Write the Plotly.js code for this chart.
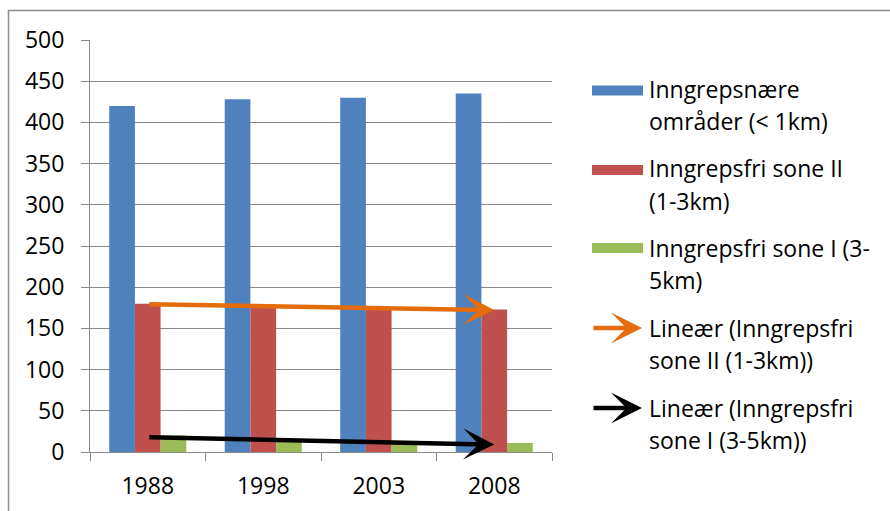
<!DOCTYPE html>
<html>
<head>
<meta charset="utf-8">
<script src="https://cdn.plot.ly/plotly-3.0.1.min.js"></script>
<style>
  html, body { margin: 0; padding: 0; background: #fff; }
  #chart { width: 890px; height: 511px; }
</style>
</head>
<body>
<div id="chart"></div>
<script>
// ---- Data ----
const years = ['1988', '1998', '2003', '2008'];
const nearValues = [420, 428, 430, 435];      // Inngrepsnære områder (< 1km)
const zoneIIValues = [180, 176, 174, 173];    // Inngrepsfri sone II (1-3km)
const zoneIValues = [20, 13, 10, 11];         // Inngrepsfri sone I (3-5km)

const seriesNames = [
  'Inngrepsnære områder (< 1km)',
  'Inngrepsfri sone II (1-3km)',
  'Inngrepsfri sone I (3-5km)'
];
const legendLines = [
  ['Inngrepsnære', 'områder (< 1km)'],
  ['Inngrepsfri sone II', '(1-3km)'],
  ['Inngrepsfri sone I (3-', '5km)'],
  ['Lineær (Inngrepsfri', 'sone II (1-3km))'],
  ['Lineær (Inngrepsfri', 'sone I (3-5km))']
];

// ---- Styling ----
const colors = ['#4F81BD', '#C0504D', '#9BBB59'];
const trendColors = ['#E46C0A', '#000000'];
const FONT = '"Open Sans", Lato, "DejaVu Sans", sans-serif';
const FS = 23;
const GRID = '#888888';

// Linear trend (least squares over category index) like Excel's "Lineær" trendline
function linFit(vals) {
  const n = vals.length;
  const xs = vals.map((_, i) => i);
  const mx = xs.reduce((a, b) => a + b, 0) / n;
  const my = vals.reduce((a, b) => a + b, 0) / n;
  let sxy = 0, sxx = 0;
  for (let i = 0; i < n; i++) { sxy += (xs[i] - mx) * (vals[i] - my); sxx += (xs[i] - mx) ** 2; }
  const b = sxy / sxx, a = my - b * mx;
  return [a, a + b * (n - 1)];
}
const trendII = linFit(zoneIIValues);
const trendI = linFit(zoneIValues);

// Plot area in pixels
const W = 890, H = 511;
const L = 90, R = 552, T = 40, B = 452;
const px = x => (x - L) / (R - L);
const py = y => (B - y) / (B - T);

const traces = [nearValues, zoneIIValues, zoneIValues].map((vals, i) => ({
  type: 'bar', x: years, y: vals, name: seriesNames[i],
  marker: { color: colors[i] }, showlegend: false, hoverinfo: 'x+y'
}));

const annotations = [];
const shapes = [];

// Trend arrows in data coordinates
[[trendII, trendColors[0]], [trendI, trendColors[1]]].forEach(([tr, col]) => {
  annotations.push({
    x: years.length - 1, y: tr[1], xref: 'x', yref: 'y',
    ax: 0, ay: tr[0], axref: 'x', ayref: 'y',
    text: '', showarrow: true, arrowhead: 3, arrowsize: 1.15,
    arrowwidth: 4.5, arrowcolor: col
  });
});

// Outer border
shapes.push({
  type: 'rect', xref: 'paper', yref: 'paper',
  x0: px(8.5), x1: px(900), y0: py(520), y1: py(10.5),
  line: { color: '#8c8c8c', width: 1.5 }, fillcolor: 'rgba(0,0,0,0)'
});

// Legend (drawn by hand to match swatch shapes)
const legendY = [[89, 121], [168, 201], [248, 280], [328, 360], [408, 440]];
const swatchY = [90.5, 170, 248];
const textX = 647;
for (let i = 0; i < 3; i++) {
  shapes.push({
    type: 'rect', xref: 'paper', yref: 'paper',
    x0: px(592), x1: px(643), y0: py(swatchY[i] + 5), y1: py(swatchY[i] - 5),
    line: { width: 0 }, fillcolor: colors[i]
  });
}
for (let j = 0; j < 2; j++) {
  annotations.push({
    x: px(642), y: py(legendY[3 + j][0]), xref: 'paper', yref: 'paper',
    ax: -50, ay: 0, text: '', showarrow: true, arrowhead: 3, arrowsize: 1.15,
    arrowwidth: 4.5, arrowcolor: trendColors[j]
  });
}
legendLines.forEach((lines, i) => {
  lines.forEach((t, k) => {
    annotations.push({
      x: px(textX), y: py(legendY[i][k]), xref: 'paper', yref: 'paper',
      xanchor: 'left', yanchor: 'middle', showarrow: false, text: t,
      font: { family: FONT, size: FS, color: '#000' }
    });
  });
});

const layout = {
  width: W, height: H,
  margin: { l: L, r: W - R, t: T, b: H - B, pad: 0 },
  paper_bgcolor: '#fff', plot_bgcolor: '#fff',
  showlegend: false,
  barmode: 'group', bargap: 0.333, bargroupgap: 0,
  font: { family: FONT, size: FS, color: '#000' },
  xaxis: {
    type: 'category', showgrid: false, showline: true, linecolor: GRID, linewidth: 1,
    ticks: 'outside', tickson: 'boundaries', ticklen: 8, tickcolor: GRID, tickwidth: 1,
    ticklabelstandoff: 13, tickfont: { family: FONT, size: FS, color: '#000' },
    fixedrange: true
  },
  yaxis: {
    range: [0, 500], dtick: 50, showgrid: true, gridcolor: GRID, gridwidth: 1,
    showline: true, linecolor: GRID, linewidth: 1, zeroline: false,
    ticks: 'outside', ticklen: 8, tickcolor: GRID, tickwidth: 1,
    ticklabelstandoff: 12, tickfont: { family: FONT, size: FS, color: '#000' },
    fixedrange: true
  },
  shapes: shapes,
  annotations: annotations
};

Plotly.newPlot('chart', traces, layout, { displayModeBar: false, staticPlot: true });
</script>
</body>
</html>
